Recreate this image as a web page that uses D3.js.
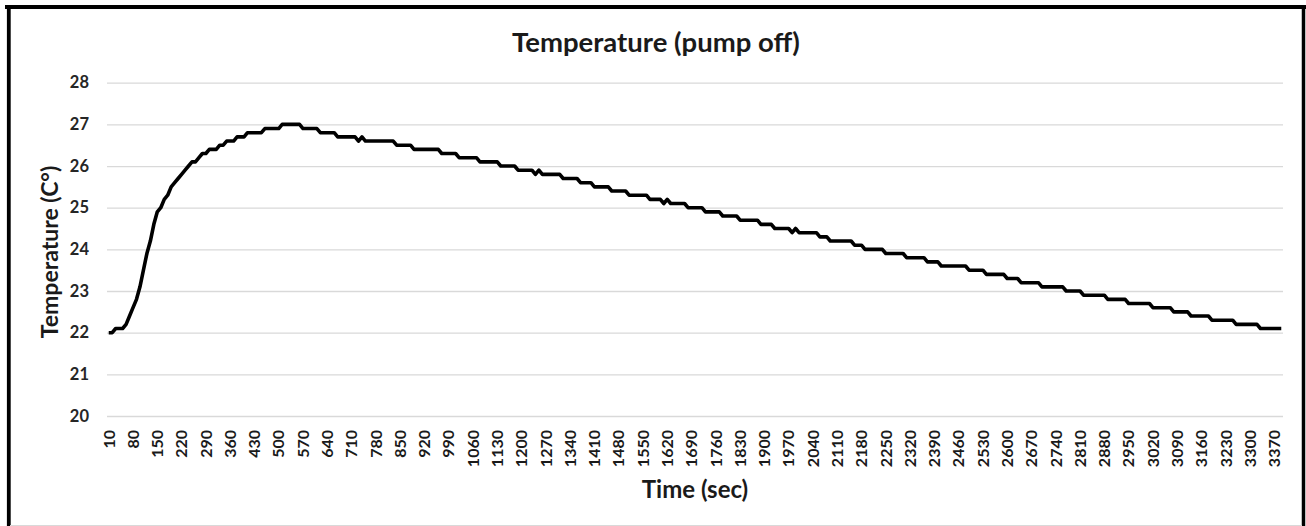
<!DOCTYPE html>
<html>
<head>
<meta charset="utf-8">
<script src="https://cdn.jsdelivr.net/npm/d3@7"></script>
<style>
  html, body { margin: 0; padding: 0; background: #fff; }
  svg { display: block; }
  text { font-family: Lato, "Open Sans", "Liberation Sans", sans-serif; }
</style>
</head>
<body>
<svg id="chart" width="1306" height="526"></svg>
<script>
// ---- DATA ----
const chartTitle = "Temperature (pump off)";
const xTitle = "Time (sec)";
const yTitle = "Temperature (C°)";

const times = [
  10,20,30,40,50,60,70,80,90,100,110,120,130,140,150,160,170,180,190,200,
  210,220,230,240,250,260,270,280,290,300,310,320,330,340,350,360,370,380,390,400,
  410,420,430,440,450,460,470,480,490,500,510,520,530,540,550,560,570,580,590,600,
  610,620,630,640,650,660,670,680,690,700,710,720,730,740,750,760,770,780,790,800,
  810,820,830,840,850,860,870,880,890,900,910,920,930,940,950,960,970,980,990,1000,
  1010,1020,1030,1040,1050,1060,1070,1080,1090,1100,1110,1120,1130,1140,1150,1160,1170,1180,1190,1200,
  1210,1220,1230,1240,1250,1260,1270,1280,1290,1300,1310,1320,1330,1340,1350,1360,1370,1380,1390,1400,
  1410,1420,1430,1440,1450,1460,1470,1480,1490,1500,1510,1520,1530,1540,1550,1560,1570,1580,1590,1600,
  1610,1620,1630,1640,1650,1660,1670,1680,1690,1700,1710,1720,1730,1740,1750,1760,1770,1780,1790,1800,
  1810,1820,1830,1840,1850,1860,1870,1880,1890,1900,1910,1920,1930,1940,1950,1960,1970,1980,1990,2000,
  2010,2020,2030,2040,2050,2060,2070,2080,2090,2100,2110,2120,2130,2140,2150,2160,2170,2180,2190,2200,
  2210,2220,2230,2240,2250,2260,2270,2280,2290,2300,2310,2320,2330,2340,2350,2360,2370,2380,2390,2400,
  2410,2420,2430,2440,2450,2460,2470,2480,2490,2500,2510,2520,2530,2540,2550,2560,2570,2580,2590,2600,
  2610,2620,2630,2640,2650,2660,2670,2680,2690,2700,2710,2720,2730,2740,2750,2760,2770,2780,2790,2800,
  2810,2820,2830,2840,2850,2860,2870,2880,2890,2900,2910,2920,2930,2940,2950,2960,2970,2980,2990,3000,
  3010,3020,3030,3040,3050,3060,3070,3080,3090,3100,3110,3120,3130,3140,3150,3160,3170,3180,3190,3200,
  3210,3220,3230,3240,3250,3260,3270,3280,3290,3300,3310,3320,3330,3340,3350,3360,3370,3380,3390
];

const temperature = [
  22.0,22.0,22.1,22.1,22.1,22.2,22.4,22.6,22.8,23.1,
  23.5,23.9,24.2,24.6,24.9,25.0,25.2,25.3,25.5,25.6,
  25.7,25.8,25.9,26.0,26.1,26.1,26.2,26.3,26.3,26.4,
  26.4,26.4,26.5,26.5,26.6,26.6,26.6,26.7,26.7,26.7,
  26.8,26.8,26.8,26.8,26.8,26.9,26.9,26.9,26.9,26.9,
  27.0,27.0,27.0,27.0,27.0,27.0,26.9,26.9,26.9,26.9,
  26.9,26.8,26.8,26.8,26.8,26.8,26.7,26.7,26.7,26.7,
  26.7,26.7,26.6,26.7,26.6,26.6,26.6,26.6,26.6,26.6,
  26.6,26.6,26.6,26.5,26.5,26.5,26.5,26.5,26.4,26.4,
  26.4,26.4,26.4,26.4,26.4,26.4,26.3,26.3,26.3,26.3,
  26.3,26.2,26.2,26.2,26.2,26.2,26.2,26.1,26.1,26.1,
  26.1,26.1,26.1,26.0,26.0,26.0,26.0,26.0,25.9,25.9,
  25.9,25.9,25.9,25.8,25.9,25.8,25.8,25.8,25.8,25.8,
  25.8,25.7,25.7,25.7,25.7,25.7,25.6,25.6,25.6,25.6,
  25.5,25.5,25.5,25.5,25.5,25.4,25.4,25.4,25.4,25.4,
  25.3,25.3,25.3,25.3,25.3,25.3,25.2,25.2,25.2,25.2,
  25.1,25.2,25.1,25.1,25.1,25.1,25.1,25.0,25.0,25.0,
  25.0,25.0,24.9,24.9,24.9,24.9,24.9,24.8,24.8,24.8,
  24.8,24.8,24.7,24.7,24.7,24.7,24.7,24.7,24.6,24.6,
  24.6,24.6,24.5,24.5,24.5,24.5,24.5,24.4,24.5,24.4,
  24.4,24.4,24.4,24.4,24.4,24.3,24.3,24.3,24.2,24.2,
  24.2,24.2,24.2,24.2,24.2,24.1,24.1,24.1,24.0,24.0,
  24.0,24.0,24.0,24.0,23.9,23.9,23.9,23.9,23.9,23.9,
  23.8,23.8,23.8,23.8,23.8,23.8,23.7,23.7,23.7,23.7,
  23.6,23.6,23.6,23.6,23.6,23.6,23.6,23.6,23.5,23.5,
  23.5,23.5,23.5,23.4,23.4,23.4,23.4,23.4,23.4,23.3,
  23.3,23.3,23.3,23.2,23.2,23.2,23.2,23.2,23.2,23.1,
  23.1,23.1,23.1,23.1,23.1,23.1,23.0,23.0,23.0,23.0,
  23.0,22.9,22.9,22.9,22.9,22.9,22.9,22.9,22.8,22.8,
  22.8,22.8,22.8,22.8,22.7,22.7,22.7,22.7,22.7,22.7,
  22.7,22.6,22.6,22.6,22.6,22.6,22.6,22.5,22.5,22.5,
  22.5,22.5,22.4,22.4,22.4,22.4,22.4,22.4,22.3,22.3,
  22.3,22.3,22.3,22.3,22.3,22.2,22.2,22.2,22.2,22.2,
  22.2,22.2,22.1,22.1,22.1,22.1,22.1,22.1,22.1
];

const xTickLabels = [
  10,80,150,220,290,360,430,500,570,640,710,780,850,920,990,1060,1130,1200,1270,1340,
  1410,1480,1550,1620,1690,1760,1830,1900,1970,2040,2110,2180,2250,2320,2390,2460,2530,
  2600,2670,2740,2810,2880,2950,3020,3090,3160,3230,3300,3370
];
const yTickLabels = [20,21,22,23,24,25,26,27,28];

// ---- CHART ----
const W = 1306, H = 526;
const plot = { left: 107, right: 1283, top: 82.7, bottom: 416 };
const svg = d3.select("#chart");

svg.append("rect").attr("x",0).attr("y",0).attr("width",W).attr("height",H).attr("fill","#fff");

const x = d3.scaleBand().domain(times).range([plot.left, plot.right]).padding(0);
const y = d3.scaleLinear().domain([20, 28]).range([plot.bottom, plot.top]);
const bw = x.bandwidth();

// gridlines + y labels
const yAxis = d3.axisLeft(y).tickValues(yTickLabels).tickFormat(d3.format("d"))
  .tickSize(-(plot.right - plot.left)).tickPadding(18);
const gy = svg.append("g").attr("transform", `translate(${plot.left},0)`).call(yAxis);
gy.select(".domain").remove();
gy.selectAll(".tick line").attr("stroke", "#d9d9d9").attr("stroke-width", 1.3);
gy.selectAll(".tick text").attr("fill", "#262626").attr("font-size", 16.5)
  .attr("font-weight", 700).attr("font-family", "Lato, sans-serif");

// x axis labels
const xAxis = d3.axisBottom(x).tickValues(xTickLabels).tickSize(0).tickPadding(0);
const gx = svg.append("g").attr("transform", `translate(0,${plot.bottom})`).call(xAxis);
gx.select(".domain").remove();
gx.selectAll(".tick text")
  .attr("transform", "rotate(-90)")
  .attr("x", -14).attr("y", 0).attr("dy", "0.36em")
  .attr("text-anchor", "end")
  .attr("fill", "#1a1a1a").attr("font-size", 16).attr("font-weight", 700)
  .attr("font-family", "Lato, sans-serif");

// line
const line = d3.line()
  .x((d, i) => x(times[i]) + bw / 2)
  .y(d => y(d));
svg.append("path").datum(temperature)
  .attr("d", line).attr("fill", "none").attr("stroke", "#000")
  .attr("stroke-width", 3.6).attr("stroke-linejoin", "round").attr("stroke-linecap", "butt");

// titles
svg.append("text").attr("x", 656).attr("y", 52).attr("text-anchor", "middle")
  .attr("font-size", 27.5).attr("font-weight", 700).attr("fill", "#1a1a1a").text(chartTitle);
svg.append("text").attr("x", 695).attr("y", 498).attr("text-anchor", "middle")
  .attr("font-size", 24).attr("font-weight", 700).attr("fill", "#1a1a1a").text(xTitle);
svg.append("text").attr("transform", "translate(58,252) rotate(-90)").attr("text-anchor", "middle")
  .attr("font-size", 23).attr("font-weight", 700).attr("fill", "#1a1a1a").text(yTitle);

// frame
svg.append("line").attr("x1", 5).attr("x2", 1306).attr("y1", 7).attr("y2", 7).attr("stroke", "#000").attr("stroke-width", 4);
svg.append("line").attr("x1", 8.8).attr("x2", 8.8).attr("y1", 5).attr("y2", 526).attr("stroke", "#000").attr("stroke-width", 3.8);
svg.append("line").attr("x1", 1303.5).attr("x2", 1303.5).attr("y1", 5).attr("y2", 526).attr("stroke", "#000").attr("stroke-width", 3.5);
svg.append("line").attr("x1", 10).attr("x2", 1302).attr("y1", 525.5).attr("y2", 525.5).attr("stroke", "#d9d9d9").attr("stroke-width", 1);
</script>
</body>
</html>
